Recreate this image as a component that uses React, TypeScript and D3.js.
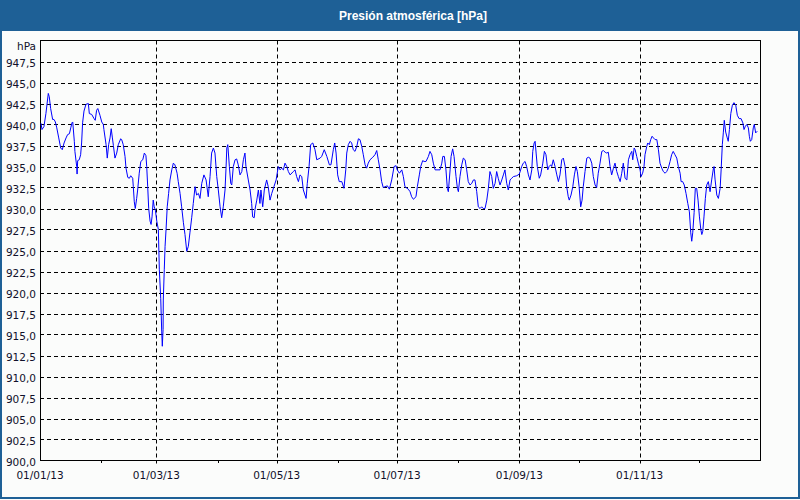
import React from "react";
import * as d3 from "d3";

// Day offsets from 01/01/2013 and pressure readings (hPa)
const dayOffsets: number[] = [
  0.5, 1.0, 2.0, 3.0, 4.2, 4.7, 5.4, 6.4, 7.1, 7.8, 8.5, 9.5, 10.5, 11.3, 12.2, 13.2, 14.0, 14.9, 15.6, 16.2,
  16.6, 17.4, 17.7, 18.6, 18.8, 19.1, 19.9, 20.6, 21.1, 21.6, 22.3, 23.3, 24.5, 25.0, 26.2, 27.4, 28.0, 28.7, 29.3, 30.4,
  31.3, 32.1, 32.4, 33.5, 34.1, 34.8, 35.5, 36.1, 36.7, 37.2, 38.0, 38.9, 39.7, 40.9, 41.4, 42.2, 43.1, 43.6, 44.5, 45.3,
  46.0, 47.0, 47.3, 47.8, 48.3, 49.0, 49.5, 50.3, 51.1, 52.1, 52.9, 53.7, 54.1, 54.6, 55.1, 55.8, 56.3, 56.8, 57.4, 57.9,
  58.5, 59.2, 60.0, 60.5, 61.2, 61.7, 62.0, 62.4, 62.5, 63.0, 63.4, 63.9, 64.5, 65.2, 65.9, 66.8, 67.6, 68.4, 69.5, 70.1,
  71.0, 71.8, 72.7, 73.5, 74.4, 75.2, 76.0, 76.9, 77.7, 78.6, 79.4, 80.3, 81.1, 82.0, 83.1, 84.2, 85.3, 86.2, 87.0, 87.9,
  88.7, 89.6, 90.4, 91.3, 92.1, 92.9, 93.8, 94.3, 94.7, 95.2, 96.0, 96.7, 97.2, 98.0, 98.9, 99.7, 100.5, 101.4, 102.3, 103.1,
  103.9, 104.4, 105.6, 106.5, 107.3, 107.8, 108.6, 109.0, 109.9, 110.7, 111.5, 112.0, 112.9, 113.7, 114.9, 115.7, 116.6, 117.5, 118.6, 119.7,
  120.8, 121.7, 122.5, 123.4, 124.2, 125.1, 125.9, 126.8, 128.4, 129.3, 130.1, 131.0, 131.8, 132.7, 133.5, 134.9, 135.5, 136.4, 137.2, 138.3,
  139.4, 140.3, 142.0, 142.8, 144.1, 145.4, 146.7, 147.5, 148.7, 149.4, 150.1, 150.9, 151.7, 153.0, 154.1, 155.0, 155.5, 156.3, 157.2, 158.0,
  158.8, 159.7, 160.6, 161.4, 162.2, 163.1, 163.9, 164.8, 165.6, 166.4, 167.3, 168.7, 169.8, 170.7, 171.5, 172.4, 173.2, 174.0, 176.1, 177.1,
  178.3, 179.5, 180.5, 181.1, 182.2, 183.4, 184.2, 185.0, 186.7, 187.6, 188.4, 189.3, 190.6, 191.3, 192.3, 193.0, 194.0, 194.7, 195.7, 196.9,
  197.7, 198.6, 199.4, 200.3, 202.8, 203.7, 204.2, 205.0, 205.8, 206.5, 207.0, 207.9, 208.4, 209.2, 209.9, 210.9, 211.6, 212.1, 212.9, 213.8,
  214.6, 215.5, 216.3, 217.1, 218.0, 218.9, 219.7, 220.5, 221.4, 222.2, 223.1, 223.9, 224.7, 225.6, 226.5, 227.3, 228.1, 229.0, 229.8, 230.7,
  231.5, 232.3, 233.2, 234.1, 234.9, 235.7, 236.6, 237.4, 238.3, 239.1, 240.0, 241.7, 243.0, 244.2, 245.0, 245.9, 246.7, 247.6, 248.4, 249.3,
  249.8, 250.5, 251.0, 251.5, 252.1, 253.1, 253.8, 254.9, 255.7, 256.5, 257.4, 258.1, 258.9, 259.4, 260.2, 261.1, 262.0, 262.8, 263.6, 264.5,
  265.3, 266.2, 267.0, 267.8, 268.3, 269.2, 270.1, 270.9, 271.7, 272.4, 273.3, 274.1, 274.8, 275.4, 276.3, 277.2, 278.0, 278.8, 279.7, 280.5,
  281.4, 282.2, 283.0, 283.9, 284.8, 285.6, 286.5, 287.3, 288.1, 289.0, 289.8, 290.7, 291.5, 292.4, 293.2, 294.1, 294.9, 295.7, 296.6, 297.5,
  298.3, 299.1, 300.0, 300.5, 301.2, 301.7, 302.5, 303.3, 304.2, 304.7, 305.5, 306.2, 306.7, 307.6, 308.1, 308.9, 309.6, 310.3, 311.0, 311.8,
  312.7, 313.5, 314.3, 315.2, 316.0, 316.9, 317.7, 318.5, 319.4, 320.2, 321.0, 321.9, 322.8, 323.6, 324.5, 325.0, 325.8, 326.6, 327.5, 328.4,
  329.2, 329.9, 330.4, 330.9, 331.6, 332.2, 332.9, 333.6, 334.3, 335.0, 335.5, 336.0, 336.6, 337.3, 338.0, 338.8, 339.7, 340.5, 341.4, 341.7,
  342.2, 343.1, 343.9, 344.8, 345.3, 345.9, 346.4, 346.9, 347.6, 348.4, 348.9, 349.5, 350.2, 351.0, 351.8, 352.7, 353.5, 354.4, 355.4, 356.3,
  356.9, 357.6, 358.3, 359.1, 359.6, 360.1, 360.8, 361.6, 362.1, 362.8, 363.6,
];

const pressure: number[] = [
  940.15, 939.4, 939.75, 941.3, 943.7, 943.3, 941.9, 940.6, 940.6, 940.3, 939.6, 938.4, 937.2, 937.0, 937.8, 938.4, 938.8, 938.9, 939.6, 940.2,
  940.3, 938.0, 936.8, 935.0, 934.1, 935.7, 935.8, 936.4, 937.8, 940.2, 941.6, 942.4, 942.5, 941.3, 941.2, 940.7, 940.5, 941.7, 941.9, 941.1,
  940.3, 940.0, 939.4, 937.6, 936.0, 937.6, 938.4, 939.5, 938.4, 937.5, 936.0, 936.6, 937.6, 938.3, 938.2, 937.6, 936.2, 934.8, 933.7, 933.6,
  933.9, 933.6, 932.6, 930.8, 930.0, 931.2, 932.2, 934.2, 935.6, 935.8, 936.6, 936.3, 935.0, 932.6, 930.0, 928.5, 928.1, 929.0, 931.0, 930.2,
  929.8, 928.5, 927.5, 922.7, 919.3, 915.4, 913.6, 915.6, 919.1, 922.7, 925.5, 927.5, 930.2, 931.8, 933.4, 934.6, 935.4, 935.2, 934.2, 933.2,
  931.8, 930.2, 928.3, 926.9, 924.9, 925.5, 927.1, 928.9, 930.6, 932.6, 931.6, 931.8, 931.2, 933.0, 934.0, 933.4, 931.4, 933.8, 936.6, 937.2,
  936.6, 933.8, 932.2, 930.2, 928.9, 930.2, 932.2, 934.8, 937.2, 937.6, 935.0, 933.0, 932.8, 935.0, 935.8, 935.9, 935.2, 934.0, 934.4, 935.8,
  936.6, 935.0, 933.4, 932.2, 930.6, 929.0, 928.9, 929.9, 931.0, 932.2, 930.6, 932.2, 930.2, 932.2, 933.4, 932.6, 931.0, 931.8, 932.6, 933.4,
  935.0, 934.6, 934.8, 934.6, 935.4, 935.0, 934.4, 934.0, 934.4, 934.6, 933.8, 933.2, 934.0, 933.8, 932.2, 931.2, 933.0, 935.0, 937.6, 937.8,
  937.0, 935.8, 936.0, 936.2, 937.0, 936.2, 935.2, 935.2, 937.0, 937.8, 936.6, 934.0, 933.2, 933.2, 932.4, 934.6, 936.6, 937.6, 938.0, 937.8,
  937.0, 936.8, 937.4, 938.3, 938.2, 937.4, 936.4, 935.2, 934.8, 935.4, 935.8, 936.1, 936.4, 936.9, 935.8, 934.6, 933.2, 932.5, 932.7, 932.3,
  933.4, 935.0, 935.1, 934.6, 934.2, 934.6, 933.8, 932.6, 932.3, 932.0, 931.4, 931.1, 931.4, 932.6, 934.0, 935.0, 935.7, 935.6, 935.6, 936.2,
  936.8, 936.4, 935.4, 934.6, 934.6, 935.4, 936.2, 936.2, 934.6, 932.4, 932.0, 934.6, 936.2, 937.1, 936.2, 933.8, 932.4, 932.0, 933.8, 935.2,
  936.0, 935.8, 934.6, 933.2, 932.8, 933.0, 933.4, 933.4, 932.0, 930.2, 930.0, 930.2, 930.0, 930.0, 931.0, 932.4, 934.4, 933.8, 932.4, 933.0,
  934.4, 933.6, 932.8, 933.4, 934.0, 934.6, 933.0, 932.2, 933.4, 933.6, 933.8, 933.9, 934.1, 935.0, 935.4, 935.6, 935.0, 934.0, 933.4, 934.6,
  936.8, 937.8, 938.0, 936.6, 935.0, 933.6, 934.0, 935.4, 936.8, 936.4, 934.6, 935.0, 935.2, 935.0, 935.8, 935.0, 934.0, 933.2, 934.0, 935.8,
  936.0, 935.0, 932.6, 931.4, 931.0, 931.6, 932.6, 934.0, 935.0, 934.4, 932.6, 930.2, 931.0, 932.6, 934.4, 936.0, 936.1, 936.0, 935.4, 933.8,
  932.8, 932.5, 934.2, 935.4, 936.8, 936.9, 936.7, 936.6, 936.7, 935.0, 934.0, 934.8, 935.4, 934.4, 933.8, 933.2, 934.2, 935.4, 933.6, 933.4,
  935.8, 936.4, 936.8, 935.8, 937.2, 937.0, 936.2, 935.4, 934.6, 933.8, 934.2, 935.0, 936.4, 937.4, 937.8, 937.6, 938.2, 938.6, 938.4, 938.2,
  938.2, 937.0, 935.4, 934.8, 934.4, 934.2, 934.4, 934.8, 935.6, 936.4, 936.8, 936.4, 936.0, 935.0, 934.2, 933.2, 933.2, 932.8, 931.8, 930.6,
  929.6, 927.1, 926.1, 927.1, 929.5, 932.4, 932.4, 931.0, 929.0, 927.5, 926.9, 927.3, 929.0, 931.2, 932.8, 933.2, 932.0, 933.4, 934.8, 935.0,
  933.5, 931.6, 931.2, 932.4, 934.6, 937.6, 939.0, 940.5, 939.1, 938.4, 938.0, 939.4, 941.3, 942.3, 942.6, 942.3, 941.1, 940.7, 940.7, 940.2,
  939.4, 939.8, 940.0, 939.6, 938.6, 938.0, 938.2, 939.6, 940.0, 939.0, 939.2,
];

const yTicks: number[] = [
  900, 902.5, 905, 907.5, 910, 912.5, 915, 917.5, 920, 922.5, 925, 927.5, 930, 932.5, 935, 937.5, 940, 942.5, 945, 947.5,
];
const xMajorTicks: string[] = ["2013-01-01", "2013-03-01", "2013-05-01", "2013-07-01", "2013-09-01", "2013-11-01"];
const xMinorTicks: string[] = ["2013-02-01", "2013-04-01", "2013-06-01", "2013-08-01", "2013-10-01", "2013-12-01"];

const TITLE = "Presión atmosférica [hPa]";
const UNIT = "hPa";

const W = 800;
const H = 500;
const BLUE = "#1e6096";
const BG = "#fbfcfb";
const FONT = "'DejaVu Sans', Tahoma, sans-serif";
const TITLE_FONT = "'Liberation Sans', Arial, sans-serif";

export default function App() {
  const left = 40;
  const right = 760;
  const top = 40.5;
  const bottom = 460.5;

  const start = new Date(Date.UTC(2013, 0, 1));
  const end = new Date(Date.UTC(2014, 0, 1));
  const x = d3.scaleUtc().domain([start, end]).range([left, right]);
  const y = d3.scaleLinear().domain([900, 950]).range([bottom, top]);

  const parse = d3.utcParse("%Y-%m-%d");
  const fmt = d3.utcFormat("%d/%m/%y");

  const points = dayOffsets.map((d, i) => ({
    date: new Date(start.getTime() + d * 86400000),
    v: pressure[i],
  }));

  const line = d3
    .line<{ date: Date; v: number }>()
    .x((p) => x(p.date))
    .y((p) => y(p.v));

  const majors = xMajorTicks.map((s) => parse(s) as Date);
  const minors = xMinorTicks.map((s) => parse(s) as Date);

  const textColor = "#10102a";

  return (
    <svg
      width={W}
      height={H}
      style={{ position: "absolute", left: 0, top: 0, display: "block" }}
      xmlns="http://www.w3.org/2000/svg"
    >
      <rect x={0} y={0} width={W} height={H} fill={BG} />
      <rect x={0} y={0} width={W} height={31} fill={BLUE} />
      <text
        x={W / 2 + 13}
        y={20}
        textAnchor="middle"
        fill="#ffffff"
        fontFamily={TITLE_FONT}
        fontWeight="bold"
        fontSize={12}
      >
        {TITLE}
      </text>

      {/* horizontal grid */}
      {yTicks.map((t) =>
        t === 900 ? null : (
          <line
            key={"gy" + t}
            x1={left}
            x2={right}
            y1={Math.round(y(t)) + 0.5}
            y2={Math.round(y(t)) + 0.5}
            stroke="#000"
            strokeWidth={1}
            strokeDasharray="4,3"
          />
        )
      )}
      {/* vertical grid at major ticks */}
      {majors.slice(1).map((d, i) => (
        <line
          key={"gx" + i}
          x1={Math.round(x(d)) + 0.5}
          x2={Math.round(x(d)) + 0.5}
          y1={top}
          y2={bottom + 3}
          stroke="#000"
          strokeWidth={1}
          strokeDasharray="4,3"
        />
      ))}
      {minors.map((d, i) => (
        <line
          key={"mx" + i}
          x1={Math.round(x(d)) + 0.5}
          x2={Math.round(x(d)) + 0.5}
          y1={bottom}
          y2={bottom + 2.5}
          stroke="#000"
          strokeWidth={1}
        />
      ))}

      {/* plot frame */}
      <rect
        x={left + 0.5}
        y={top}
        width={right - left}
        height={bottom - top}
        fill="none"
        stroke="#000"
        strokeWidth={1}
      />

      {/* data line */}
      <path d={line(points) || ""} fill="none" stroke="#0000ff" strokeWidth={1} />

      {/* y labels */}
      {yTicks.map((t) => (
        <text
          key={"ly" + t}
          x={36}
          y={y(t) + 5.5}
          textAnchor="end"
          fill={textColor}
          fontFamily={FONT}
          fontSize={10.5}
        >
          {t.toFixed(1).replace(".", ",")}
        </text>
      ))}
      <text x={36} y={50} textAnchor="end" fill={textColor} fontFamily={FONT} fontSize={10.5}>
        {UNIT}
      </text>

      {/* x labels */}
      {majors.map((d, i) => (
        <text
          key={"lx" + i}
          x={x(d)}
          y={479}
          textAnchor="middle"
          fill={textColor}
          fontFamily={FONT}
          fontSize={10.5}
        >
          {fmt(d)}
        </text>
      ))}

      {/* outer frame */}
      <rect x={1} y={1} width={W - 2} height={H - 3} fill="none" stroke={BLUE} strokeWidth={2} />
    </svg>
  );
}
